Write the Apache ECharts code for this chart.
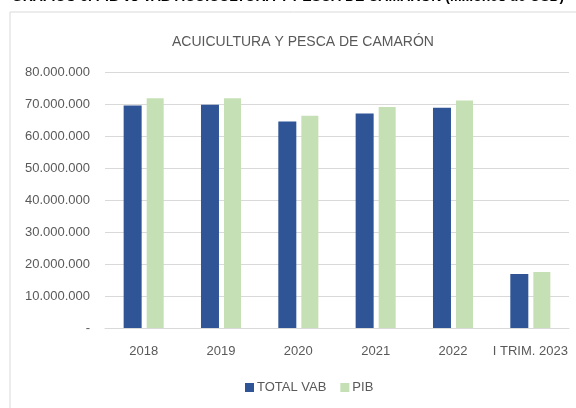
<!DOCTYPE html>
<html>
<head>
  <meta charset="UTF-8">
  <title>camaron</title>
  <style>
  html, body { margin: 0; padding: 0; background: #fff; }
  #main { width: 576px; height: 408px; }
  </style>
  <script src="https://cdn.jsdelivr.net/npm/echarts@6/dist/echarts.min.js"></script>
</head>
<body>
  <div id="main"></div>
  <script type="text/javascript">
  var categories = ['2018', '2019', '2020', '2021', '2022', 'I TRIM. 2023'];
  var totalVab = [69500000, 69800000, 64500000, 67000000, 68800000, 16900000];
  var pib = [71800000, 71800000, 66300000, 69100000, 71100000, 17500000];
  var yTicks = [0, 10000000, 20000000, 30000000, 40000000, 50000000, 60000000, 70000000, 80000000];

  var font = '"Liberation Sans", Arial, sans-serif';

  function fmt(v) {
    if (v === 0) return '-';
    return String(v).replace(/\B(?=(\d{3})+(?!\d))/g, '.');
  }

  var myChart = echarts.init(document.getElementById('main'));

  var option = {
    animation: false,
    title: {
      text: 'ACUICULTURA Y PESCA DE CAMARÓN',
      left: 167,
      top: 30,
      textStyle: { fontFamily: font, fontSize: 14, fontWeight: 'normal', color: '#595959' }
    },
    graphic: [{
      type: 'rect',
      shape: { x: 10, y: 12, width: 600, height: 420 },
      style: { fill: 'none', stroke: '#d9d9d9', lineWidth: 1 },
      silent: true
    }, {
      type: 'text',
      left: 'center',
      top: -10,
      style: {
        text: 'GRÁFICO 5. PIB vs VAB ACUICULTURA Y PESCA DE CAMARÓN (Millones de USD)',
        font: 'bold 14px Arial, "Liberation Sans", sans-serif',
        fill: '#000'
      }
    }],
    legend: {
      data: ['TOTAL VAB', 'PIB'],
      bottom: 9,
      left: 240,
      itemWidth: 9,
      itemHeight: 9,
      itemGap: 14,
      icon: 'rect',
      textStyle: { fontFamily: font, fontSize: 13, color: '#595959', padding: [0, 0, 0, -2] }
    },
    grid: { left: 105, right: 7, top: 72, bottom: 80 },
    xAxis: {
      type: 'category',
      data: categories,
      axisTick: { show: false },
      axisLine: { lineStyle: { color: '#d9d9d9' } },
      axisLabel: { fontFamily: font, fontSize: 13, color: '#595959', margin: 17, interval: 0 }
    },
    yAxis: {
      type: 'value',
      min: 0,
      max: 80000000,
      interval: 10000000,
      axisLine: { show: false },
      axisTick: { show: false },
      splitLine: { lineStyle: { color: '#d9d9d9' } },
      axisLabel: {
        fontFamily: font, fontSize: 13, color: '#595959', margin: 15,
        formatter: function (v) { return yTicks.indexOf(v) >= 0 ? fmt(v) : ''; }
      }
    },
    series: [{
      name: 'TOTAL VAB',
      type: 'bar',
      data: totalVab,
      barWidth: 18,
      barGap: '28%',
      itemStyle: { color: '#2f5597' }
    }, {
      name: 'PIB',
      type: 'bar',
      data: pib,
      barWidth: 17,
      itemStyle: { color: '#c5e0b4' }
    }]
  };

  myChart.setOption(option);
  </script>
</body>
</html>
